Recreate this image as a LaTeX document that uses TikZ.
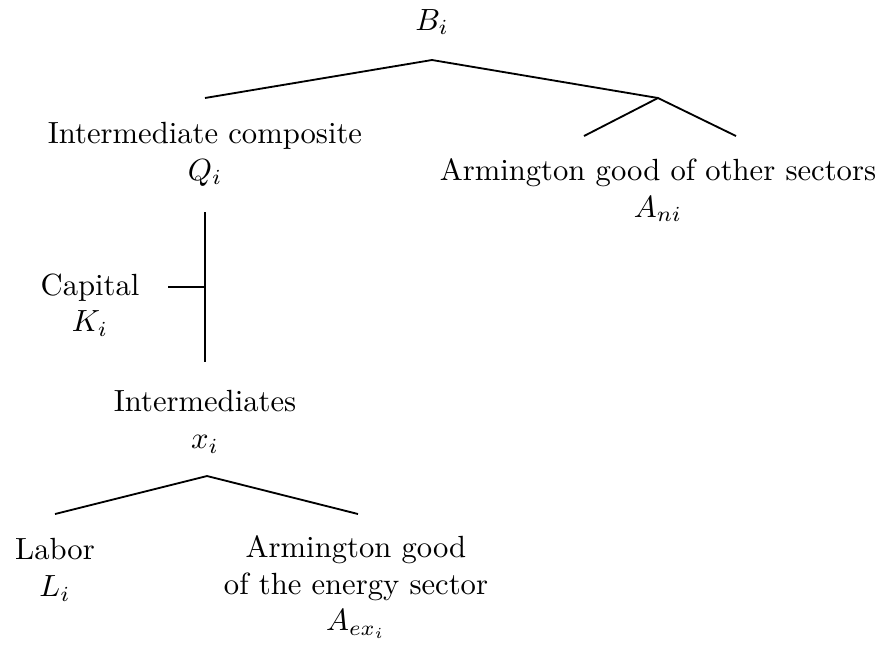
\documentclass[tikz,border=0pt]{standalone}
\usepackage{tikz}
\usepackage{amsmath}

\begin{document}
\begin{tikzpicture}[x=0.01147cm,y=-0.01147cm,every node/.style={align=center,inner sep=0pt},
    branch/.style={semithick}]
    \useasboundingbox (0,0) rectangle (886,646);
    % Top nest: output of sector i
    \node (B) at (432,22) {$B_i$};
    \coordinate (Btop) at (432,60);
    \coordinate (Qend) at (205,98);
    \coordinate (Nsplit) at (658,98);
    \coordinate (Nl) at (584,136);
    \coordinate (Nr) at (736,136);
    \draw[branch] (Qend) -- (Btop) -- (Nsplit);
    \draw[branch] (Nl) -- (Nsplit) -- (Nr);
    \node (Q) at (205,154) {Intermediate composite\\$Q_i$};
    \node (An) at (658,190) {Armington good of other sectors\\$A_{ni}$};
    % Capital nest
    \coordinate (Vtop) at (205,212);
    \coordinate (Vbot) at (205,362);
    \coordinate (Kjoin) at (205,287);
    \coordinate (Kend) at (168,287);
    \draw[branch] (Vtop) -- (Vbot);
    \draw[branch] (Kend) -- (Kjoin);
    \node (K) at (90,305) {Capital\\$K_i$};
    \node (X) at (205,422) {Intermediates\\$x_i$};
    % Labor and energy nest
    \coordinate (Xtop) at (207,476);
    \coordinate (Lend) at (55,514);
    \coordinate (Aend) at (358,514);
    \draw[branch] (Lend) -- (Xtop) -- (Aend);
    \node (L) at (55,570) {Labor\\$L_i$};
    \node (Ae) at (356,587) {Armington good\\of the energy sector\\$A_{ex_i}$};
  \end{tikzpicture}
\end{document}
